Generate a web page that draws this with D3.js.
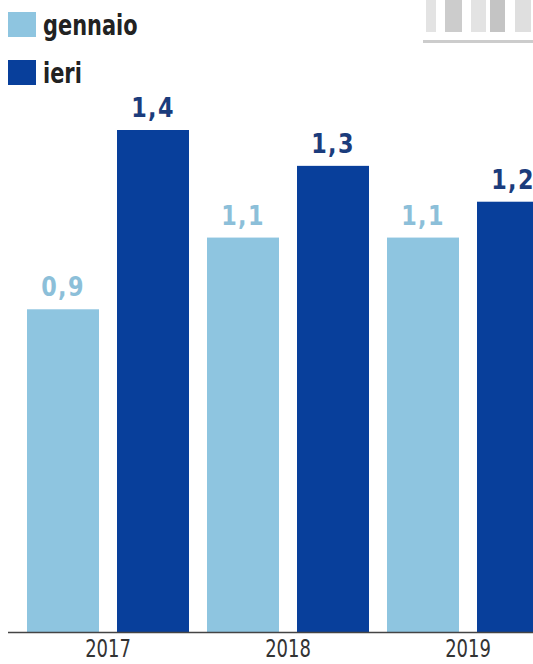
<!DOCTYPE html>
<html>
<head>
<meta charset="utf-8">
<script src="https://cdn.jsdelivr.net/npm/d3@7"></script>
<style>
  body { margin:0; background:#fff; }
  svg { display:block; }
</style>
</head>
<body>
<svg id="chart" width="533" height="664"></svg>
<script>
// ---data---
var years = ["2017", "2018", "2019"]
var series = ["gennaio", "ieri"]
var gennaio = [0.9, 1.1, 1.1]
var ieri = [1.4, 1.3, 1.2]

var colors = { gennaio: "#8ec5e0", ieri: "#083f9b" }
var labelColors = { gennaio: "#8cbfd9", ieri: "#1b3c7c" }
var narrow = "'DejaVu Sans Condensed','Liberation Sans',sans-serif"

var svg = d3.select("#chart")
var baseY = 632

//---scales---
var x0 = d3.scaleBand().domain(years).range([18, 558]).paddingInner(0)
var x1 = d3.scaleBand().domain(series).range([0, x0.bandwidth()]).paddingInner(0.2).paddingOuter(0.1)
var y = d3.scaleLinear().domain([0, 1.4]).range([baseY, 130])

var rows = years.map(function(yr, i) {
  return { year: yr, values: [{ key: "gennaio", v: gennaio[i] }, { key: "ieri", v: ieri[i] }] }
})

//---logo fragment (top right)---
var logo = svg.append("g").attr("opacity", 0.5)
var logoCols = [[426, 10, "#c8c8c8"], [445, 17, "#9a9a9a"], [471, 15, "#c8c8c8"], [490, 15, "#8a8a8a"], [515, 16, "#c0c0c0"]]
logoCols.forEach(function(c) {
  logo.append("rect").attr("x", c[0]).attr("y", 0).attr("width", c[1]).attr("height", 32).attr("fill", c[2])
})
logo.append("rect").attr("x", 423).attr("y", 40).attr("width", 110).attr("height", 3).attr("fill", "#9a9a9a")

//---bars---
var groups = svg.append("g").selectAll("g").data(rows).join("g")
  .attr("transform", function(d) { return "translate(" + x0(d.year) + ",0)" })

groups.selectAll("rect").data(function(d) { return d.values }).join("rect")
  .attr("x", function(d) { return x1(d.key) })
  .attr("y", function(d) { return y(d.v) })
  .attr("width", x1.bandwidth())
  .attr("height", function(d) { return baseY - y(d.v) })
  .attr("fill", function(d) { return colors[d.key] })

groups.selectAll("text").data(function(d) { return d.values }).join("text")
  .attr("transform", function(d) {
    return "translate(" + (x1(d.key) + x1.bandwidth() / 2) + "," + (y(d.v) - 13) + ")scale(0.92,1)"
  })
  .attr("text-anchor", "middle")
  .attr("font-family", narrow)
  .attr("font-weight", "bold")
  .attr("font-size", 27)
  .attr("letter-spacing", 1.5)
  .attr("fill", function(d) { return labelColors[d.key] })
  .text(function(d) { return d3.format(".1f")(d.v).replace(".", ",") })

//---x axis---
var xAxis = svg.append("g")
  .attr("transform", "translate(0," + baseY + ")")
  .call(d3.axisBottom(x0).tickSize(0))
xAxis.select(".domain").attr("d", "M8,0.5H533").attr("stroke", "#444").attr("stroke-width", 1.5)
xAxis.selectAll(".tick text")
  .attr("y", 0).attr("dy", 0)
  .attr("transform", "translate(0,25)scale(0.8,1)")
  .attr("font-family", narrow)
  .attr("font-size", 25)
  .attr("fill", "#333")

//---legend---
var legend = svg.append("g").selectAll("g").data(series).join("g")
  .attr("transform", function(d, i) { return "translate(8," + (12 + i * 48) + ")" })
legend.append("rect").attr("width", 28).attr("height", 25).attr("fill", function(d) { return colors[d] })
legend.append("text")
  .attr("transform", "translate(35,23)scale(0.83,1)")
  .attr("font-family", narrow)
  .attr("font-weight", "bold")
  .attr("font-size", 28)
  .attr("fill", "#222")
  .text(function(d) { return d })
</script>
</body>
</html>
